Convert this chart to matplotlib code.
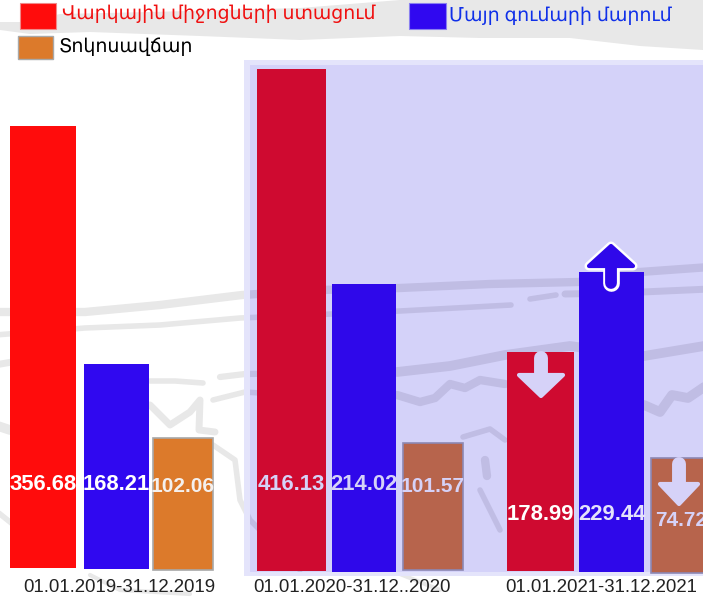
import matplotlib
matplotlib.use("Agg")
import matplotlib.pyplot as plt
from matplotlib.patches import Polygon, Rectangle

plt.rcParams['font.family'] = ['Liberation Sans', 'DejaVu Sans']

periods = ["01.01.2019-31.12.2019", "01.01.2020-31.12..2020", "01.01.2021-31.12.2021"]
legend_labels = ["Վարկային միջոցների ստացում", "Մայր գումարի մարում", "Տոկոսավճար"]

# numbers printed on the bars
revenue = [356.68, 416.13, 178.99]
principal = [168.21, 214.02, 229.44]
interest = [102.06, 101.57, 74.72]

# bar heights as measured on the picture, they are not proportional to the labels
revenue_h = [442, 502, 219]
principal_h = [205, 288, 300]
interest_h = [132, 127, 115]

# left edge, width, baseline of every bar
revenue_pos = [(10, 66, 568), (257, 69, 571), (507, 67, 571)]
principal_pos = [(84, 65, 569), (332, 64, 572), (579, 65, 572)]
interest_pos = [(153, 60, 570), (403, 60, 570), (651, 60, 573)]

revenue_col = ["#ff0c0c", "#cf0a30", "#cf0a30"]
principal_col = ["#3008f0", "#2f08ea", "#2f08ea"]
interest_col = ["#dc7a2b", "#b7644c", "#b7644c"]
interest_edge = ["#a8a8a8", "#8c88b4", "#8c88b4"]

label_y = [(484, 484, 487), (484, 484, 487), (514, 514, 521)]
text_col = [("white", "white", "#f4f0ee"), ("#d6d2f8", "#d6d2f8", "#d6d2f8"), ("white", "#e4e2fb", "#d6d2f8")]

# background map, traced by eye
top_band = [(0, 22), (25, 22), (60, 14), (150, 12), (300, 8), (400, 0), (703, 0), (703, 50), (640, 46), (570, 38), (480, 38), (400, 36), (300, 40), (200, 36), (90, 32), (30, 34), (0, 30)]
strokes = [
    ([(-5, 312), (85, 312), (160, 305), (242, 295), (320, 290), (400, 288), (490, 284), (578, 282), (640, 272), (710, 267)], 6),
    ([(-5, 335), (85, 328), (160, 325), (240, 318), (400, 311), (511, 305)], 4),
    ([(530, 299), (556, 295)], 4),
    ([(565, 294), (620, 293), (710, 289)], 5),
    ([(150, 381), (175, 381), (203, 383)], 4),
    ([(220, 377), (245, 374), (320, 373)], 4.5),
    ([(397, 372), (450, 366), (505, 355), (570, 346), (644, 356), (710, 345)], 7),
    ([(397, 395), (420, 402), (435, 398), (450, 384), (465, 388), (480, 380), (505, 384)], 6),
    ([(644, 405), (660, 412), (672, 395), (688, 398), (710, 383)], 7),
    ([(150, 405), (170, 425), (190, 412), (200, 400), (199, 430), (215, 432)], 5),
    ([(213, 400), (245, 392), (290, 395)], 4),
    ([(213, 445), (235, 460), (240, 500), (250, 520), (300, 570)], 4),
    ([(463, 437), (490, 429), (505, 440)], 4),
    ([(485, 460), (487, 476)], 6),
    ([(480, 490), (500, 530)], 4),
    ([(-5, 365), (12, 362)], 5),
    ([(-5, 425), (10, 430)], 7),
    ([(-5, 510), (20, 530), (30, 560)], 4),
    ([(90, 575), (120, 590), (190, 594)], 3),
    ([(400, 574), (440, 590)], 3),
]

fig = plt.figure(figsize=(7.03, 5.97), dpi=100)
ax = fig.add_axes([0, 0, 1, 1])
ax.set_xlim(0, 703)
ax.set_ylim(597, 0)
ax.axis("off")

def draw_map(color, zorder, clip=None):
    band = Polygon(top_band, closed=True, fc=color, ec="none", zorder=zorder)
    ax.add_patch(band)
    if clip is not None:
        band.set_clip_path(clip)
    for line, lw in strokes:
        l = ax.plot([p[0] for p in line], [p[1] for p in line], color=color, lw=lw, solid_capstyle="round", solid_joinstyle="round", zorder=zorder)[0]
        if clip is not None:
            l.set_clip_path(clip)

def arrow(x, y_stem, y_base, y_tip, stem_w, head_w, color, outline=None):
    head = [(x - head_w / 2, y_base), (x + head_w / 2, y_base), (x, y_tip)]
    layers = [(color, 0)]
    if outline:
        layers = [(outline, 3.5), (color, 0)]
    for col, extra in layers:
        ax.plot([x, x], [y_stem, y_base], color=col, lw=stem_w + extra, solid_capstyle="round", zorder=4)
        ax.add_patch(Polygon(head, closed=True, fc=col, ec=col, lw=3 + extra, joinstyle="round", zorder=4))

draw_map("#e8e8e8", 1)

ax.add_patch(Rectangle((244, 60), 470, 516, fc="#e4e4fb", ec="none", zorder=2))
inner = Rectangle((250, 65), 460, 507, fc="#d4d2f9", ec="none", zorder=2)
ax.add_patch(inner)
draw_map("#c0bde4", 2.5, clip=inner)

for i in range(3):
    ax.bar(revenue_pos[i][0], -revenue_h[i], revenue_pos[i][1], bottom=revenue_pos[i][2], align="edge", color=revenue_col[i], zorder=3)
    ax.bar(principal_pos[i][0], -principal_h[i], principal_pos[i][1], bottom=principal_pos[i][2], align="edge", color=principal_col[i], zorder=3)
    ax.bar(interest_pos[i][0], -interest_h[i], interest_pos[i][1], bottom=interest_pos[i][2], align="edge", color=interest_col[i], edgecolor=interest_edge[i], linewidth=1.2, zorder=3)
    for vals, pos, k in [(revenue, revenue_pos, 0), (principal, principal_pos, 1), (interest, interest_pos, 2)]:
        ax.text(pos[i][0] + pos[i][1] / 2, label_y[i][k], "%.2f" % vals[i], color=text_col[i][k], fontsize=15.8 if k < 2 else 15, fontweight="bold", ha="center", va="center", zorder=5)

for x, t in zip([119, 352, 601], periods):
    ax.text(x, 587, t, fontsize=13.4, color="#222222", ha="center", va="center", zorder=5)

# arrows on the 2021 bars
arrow(541, 358, 375, 396, 10, 44, "#d6d2f8")
arrow(679, 464, 484, 504, 10, 38, "#d6d2f8")
arrow(611, 283, 266, 246, 8.5, 44, "#2f08ea", outline="white")

# legend
ax.add_patch(Rectangle((20, 3), 36, 26, fc="#ff0c0c", ec="#f08a8a", linewidth=0.8, zorder=3))
ax.add_patch(Rectangle((409, 3), 37, 26, fc="#3008f0", ec="#8a80f0", linewidth=0.8, zorder=3))
ax.add_patch(Rectangle((18, 36), 35, 23, fc="#dc7a2b", ec="#a8a8a8", linewidth=1, zorder=3))
ax.text(62, 14, legend_labels[0], color="#f01010", fontsize=13.6, va="center", family=['Noto Sans', 'DejaVu Sans'], zorder=5)
ax.text(449, 16, legend_labels[1], color="#1030e8", fontsize=13.7, va="center", family=['Noto Sans', 'DejaVu Sans'], zorder=5)
ax.text(59, 47, legend_labels[2], color="#000000", fontsize=13.7, va="center", family=['Noto Sans', 'DejaVu Sans'], zorder=5)

plt.savefig("out.png", format="png", dpi=100)
